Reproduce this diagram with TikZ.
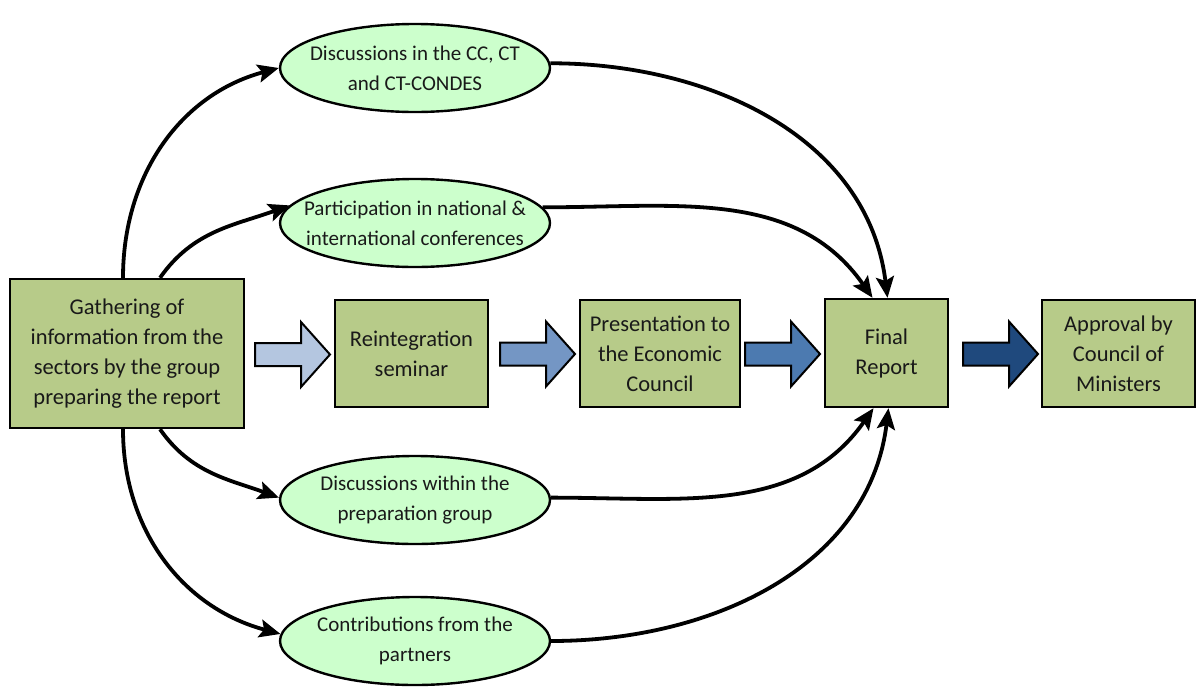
\documentclass[tikz,border=0pt]{standalone}
\usepackage{fontspec}
\setmainfont{Carlito}
\usetikzlibrary{arrows.meta,shapes.geometric}
\definecolor{boxgreen}{RGB}{183,203,137}
\definecolor{ellgreen}{RGB}{204,255,204}
\definecolor{arrA}{RGB}{180,198,224}
\definecolor{arrB}{RGB}{116,150,196}
\definecolor{arrC}{RGB}{76,122,176}
\definecolor{arrD}{RGB}{31,73,125}
\definecolor{txt}{RGB}{25,25,25}
\tikzset{
  stepbox/.style={draw=black, line width=2.4pt, fill=boxgreen, inner sep=0pt, align=center, text=txt,
    font=\fontsize{22.5}{30}\selectfont},
  ell/.style={draw=black, line width=2.4pt, fill=ellgreen, ellipse, inner sep=0pt,
    minimum width=270pt, minimum height=88pt},
  elltext/.style={align=center, text=txt, inner sep=0pt, font=\fontsize{21}{30}\selectfont},
  conn/.style={line width=3.8pt, -{Stealth[length=21pt,width=18pt,inset=4pt]}},
  blk/.style={draw=black, line width=2pt, line join=miter}
}
\begin{document}
\begin{tikzpicture}[x=1pt,y=1pt]
\useasboundingbox (0,0) rectangle (1197,-691);
% boxes
\node[stepbox, minimum width=234pt, minimum height=149pt] (g) at (127,-353.5) {Gathering of\\information from the\\sectors by the group\\preparing the report};
\node[stepbox, minimum width=153pt, minimum height=107pt] (r) at (411.5,-353.5) {Reintegration\\seminar};
\node[stepbox, minimum width=160pt, minimum height=107pt] (p) at (660,-353.5) {Presentation to\\the Economic\\Council};
\node[stepbox, minimum width=123pt, minimum height=108pt] (f) at (886.5,-353) {Final\\Report};
\node[stepbox, minimum width=153pt, minimum height=107pt] (a) at (1118.5,-353.5) {Approval by\\Council of\\Ministers};
% ellipses
\node[ell] (e1) at (415,-68) {};
\node[elltext] (t1) at (e1) {Discussions in the CC, CT\\and CT-CONDES};
\node[ell] (e2) at (415,-223) {};
\node[elltext] (t2) at (e2) {Participation in national \&\\international conferences};
\node[ell] (e3) at (415,-500) {};
\node[elltext] (t3) at (e3) {Discussions within the\\preparation group};
\node[ell] (e4) at (415,-641) {};
\node[elltext] (t4) at (e4) {Contributions from the\\partners};
% connector anchor points
\coordinate (gt1) at ([xshift=-4pt]g.north);
\coordinate (gt2) at ([xshift=33pt]g.north);
\coordinate (gb1) at ([xshift=-4pt]g.south);
\coordinate (gb2) at ([xshift=33pt]g.south);
\coordinate (ft1) at ([xshift=-14pt]f.north);
\coordinate (ft2) at ([xshift=1pt]f.north);
\coordinate (fb1) at ([xshift=-13pt]f.south);
\coordinate (fb2) at ([xshift=2pt]f.south);
% curves left
\draw[conn] (gt1) to[out=90,in=195] (e1.west);
\draw[conn] (gt2) to[out=55,in=200] (e2.172);
\draw[conn] (gb2) to[out=-55,in=160] (e3.179);
\draw[conn] (gb1) to[out=-90,in=165] (e4.177);
% curves right
\draw[conn] (e1.2) to[out=0,in=97] (ft2);
\draw[conn] (e2.7) to[out=0,in=125] (ft1);
\draw[conn] (e3.1) to[out=0,in=-125] (fb1);
\draw[conn] (e4.0) to[out=0,in=-97] (fb2);
% block arrows
\coordinate (b1) at (255,-354.5);
\coordinate (b2) at (500,-354);
\coordinate (b3) at (745,-354);
\coordinate (b4) at (963,-354);
\foreach \c/\col in {b1/arrA,b2/arrB,b3/arrC,b4/arrD}{
  \filldraw[blk, fill=\col] (\c) ++(0,11.5) -- ++(46,0) -- ++(0,21) -- ++(29,-32.5) -- ++(-29,-32.5) -- ++(0,21) -- ++(-46,0) -- cycle;
}
\end{tikzpicture}
\end{document}
